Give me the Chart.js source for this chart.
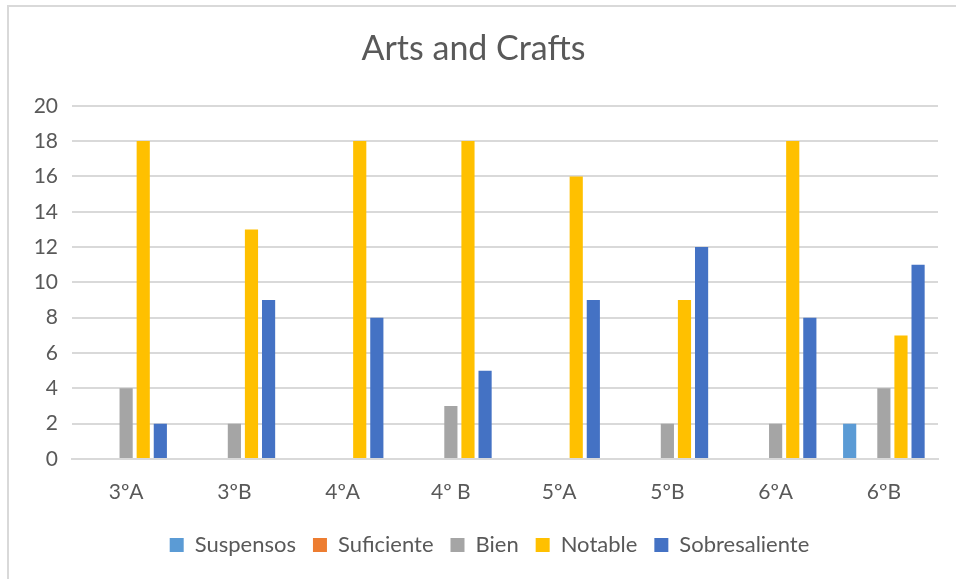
<!DOCTYPE html>
<html>
<head>
<meta charset="utf-8">
<script src="https://cdn.jsdelivr.net/npm/chart.js@4"></script>
<style>
  html, body { margin: 0; padding: 0; background: #fff; overflow: hidden; }
  #frame {
    position: absolute; left: 7px; top: 5px; width: 960px; height: 590px;
    border-left: 2px solid #d9d9d9; border-top: 2px solid #d9d9d9;
  }
  #box { position: absolute; left: 0; top: 0; width: 947px; height: 572px; }
</style>
</head>
<body>
<div id="frame"><div id="box"><canvas id="myChart"></canvas></div></div>
<script>
const classes = ["3ºA", "3ºB", "4ºA", "4º B", "5ºA", "5ºB", "6ºA", "6ºB"];
const suspensos = [0, 0, 0, 0, 0, 0, 0, 2];
const suficiente = [0, 0, 0, 0, 0, 0, 0, 0];
const bien = [4, 2, 0, 3, 0, 2, 2, 4];
const notable = [18, 13, 18, 18, 16, 9, 18, 7];
const sobresaliente = [2, 9, 8, 5, 9, 12, 8, 11];
const yTicks = [0, 2, 4, 6, 8, 10, 12, 14, 16, 18, 20];

const font = "Lato, 'Open Sans', sans-serif"; // closest to Calibri we have
const textColor = "#595959";

function series(label, data, color) {
    return {
        label: label,
        data: data,
        backgroundColor: color,
        borderWidth: 0,
        categoryPercentage: 0.79,
        barPercentage: 0.77
    };
}

// legend sits a bit right of the canvas centre in the original
const legendShift = {
    id: "legendShift",
    afterLayout: function (chart) {
        chart.legend.left += 16;
        chart.legend.right += 16;
    }
};

const ctx = document.getElementById('myChart').getContext('2d');
window.myChart = new Chart(ctx, {
    type: "bar",
    data: {
        labels: classes,
        datasets: [
            series("Suspensos", suspensos, "#5b9bd5"),
            series("Suficiente", suficiente, "#ed7d31"),
            series("Bien", bien, "#a5a5a5"),
            series("Notable", notable, "#ffc000"),
            series("Sobresaliente", sobresaliente, "#4472c4")
        ]
    },
    plugins: [legendShift],
    options: {
        responsive: true,
        maintainAspectRatio: false,
        animation: false,
        layout: { padding: { left: 0, right: 18, top: 0, bottom: 13 } },
        plugins: {
            title: {
                display: true,
                text: "Arts and Crafts",
                color: textColor,
                font: { family: font, size: 34, weight: "normal" },
                padding: { top: 22, bottom: 36 }
            },
            legend: {
                position: "bottom",
                labels: {
                    color: textColor,
                    font: { family: font, size: 22 },
                    boxWidth: 14,
                    boxHeight: 14,
                    padding: 17
                }
            },
            tooltip: { enabled: false }
        },
        scales: {
            x: {
                afterFit: function (axis) { axis.height = 58; },
                grid: { display: false, drawTicks: false },
                border: { color: "#d9d9d9", width: 2 },
                ticks: { color: textColor, font: { family: font, size: 21 }, padding: 21 }
            },
            y: {
                min: 0,
                max: 20,
                afterFit: function (axis) { axis.width = 63; },
                afterBuildTicks: function (axis) { axis.ticks = yTicks.map(v => ({ value: v })); },
                grid: { color: "#d9d9d9", lineWidth: 2, drawTicks: false },
                border: { display: false },
                ticks: { color: textColor, font: { family: font, size: 21 }, padding: 14 }
            }
        }
    }
});
</script>
</body>
</html>
